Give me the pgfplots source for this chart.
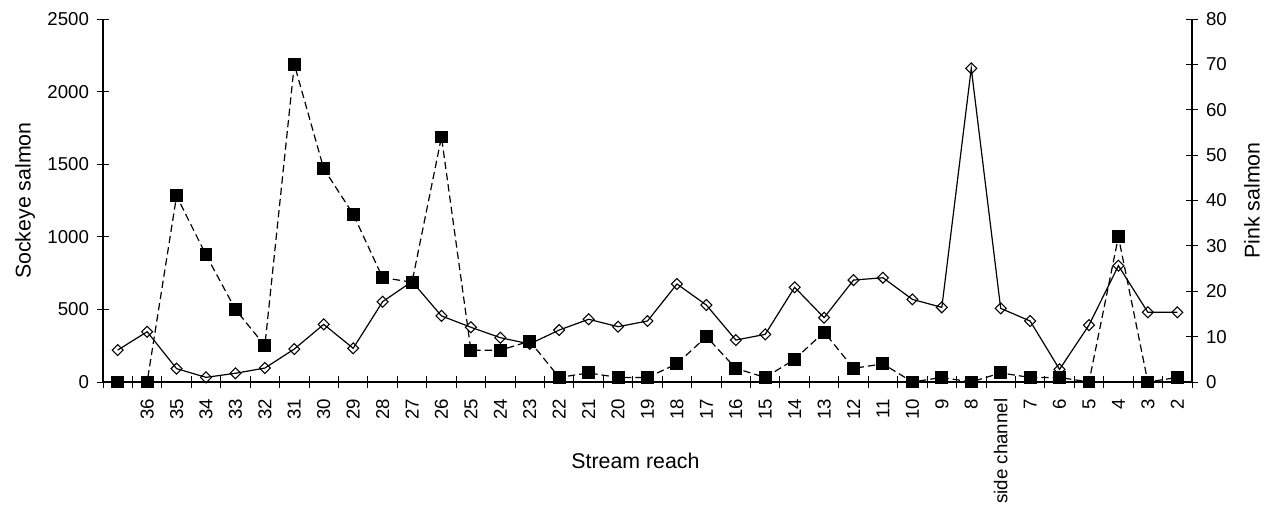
\documentclass[border=0pt]{standalone}
\usepackage{pgfplots}
\pgfplotsset{compat=1.18}
\usepackage{pgfplotstable}
\usepackage{fontspec}
\setmainfont{Liberation Sans}

\pgfplotstableread{
i sock pink
0 220 0
1 346 0
2 92 41
3 32 28
4 60 16
5 96 8
6 227 70
7 397 47
8 232 37
9 553 23
10 692 22
11 455 54
12 377 7
13 305 7
14 262 9
15 358 1
16 432 2
17 381 1
18 420 1
19 675 4
20 530 10
21 289 3
22 328 1
23 652 5
24 443 11
25 702 3
26 718 4
27 569 0
28 514 1
29 2160 0
30 507 2
31 420 1
32 87 1
33 392 0
34 801 32
35 480 0
36 480 1
}\data

\pgfplotsset{
  common/.style={
    at={(0,0)}, anchor=south west,
    scale only axis, width=816.75pt, height=272.25pt,
    xmin=-0.5, xmax=36.5, ymin=0,
    clip=false,
    tick align=center, major tick length=9pt,
    tick style={black, line width=0.7pt},
    axis line style={black, line width=0.8pt},
    /pgf/number format/assume math mode=true,
    /pgf/number format/1000 sep={},
    scaled ticks=false,
    tick label style={font=\fontsize{14}{16}\selectfont},
  }
}

\begin{document}
\begin{tikzpicture}
\useasboundingbox (-77.25pt,-93pt) rectangle (873.75pt,286.5pt);
\begin{axis}[common,
  ymax=2500,
  axis y line*=left, axis x line*=bottom,
  ytick={0,500,...,2500},
  yticklabel style={xshift=-2.5pt},
  xtick={-0.5,0.5,1.5,2.5,3.5,4.5,5.5,6.5,7.5,8.5,9.5,10.5,11.5,12.5,13.5,14.5,15.5,16.5,17.5,18.5,19.5,20.5,21.5,22.5,23.5,24.5,25.5,26.5,27.5,28.5,29.5,30.5,31.5,32.5,33.5,34.5,35.5,36.5},
  x tick label as interval,
  xticklabels={{},36,35,34,33,32,31,30,29,28,27,26,25,24,23,22,21,20,19,18,17,16,15,14,13,12,11,10,9,8,side channel,7,6,5,4,3,2,{}},
  xticklabel style={rotate=90, anchor=east, xshift=-4.5pt},
  every axis y label/.style={at={(axis description cs:0,0.5)}, rotate=90, anchor=center, yshift=58.5pt, font=\fontsize{16}{19}\selectfont},
  every axis x label/.style={at={(axis description cs:0.5,0)}, anchor=center, yshift=-59.25pt, xshift=-9pt, font=\fontsize{16}{19}\selectfont},
  ylabel={Sockeye salmon},
  xlabel={Stream reach},
]
\addplot[black, line width=0.9pt, mark=square, mark size=2.9pt,
  mark options={rotate=45, fill=white, solid, line width=0.8pt}]
  table[x=i, y=sock]{\data};
\end{axis}
\begin{axis}[common,
  ymax=80,
  axis y line*=right, axis x line=none,
  ytick={0,10,...,80},
  yticklabel style={xshift=2.5pt},
  every axis y label/.style={at={(axis description cs:1,0.5)}, rotate=90, anchor=center, yshift=-45pt, font=\fontsize{16}{19}\selectfont},
  ylabel={Pink salmon},
]
\addplot[black, line width=0.9pt, dash pattern=on 5.5pt off 3pt, mark=square*, mark size=4.4pt,
  mark options={solid}]
  table[x=i, y=pink]{\data};
\end{axis}
\end{tikzpicture}
\end{document}
